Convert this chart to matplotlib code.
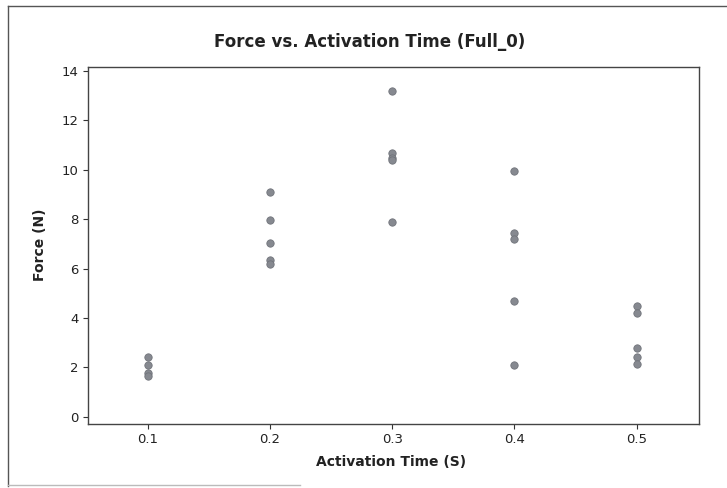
import matplotlib
matplotlib.use("Agg")
import matplotlib.pyplot as plt
from matplotlib.lines import Line2D

# Data
t_01 = [2.4, 2.1, 1.75, 1.65]
t_02 = [9.1, 7.95, 7.05, 6.35, 6.2]
t_03 = [13.2, 10.7, 10.5, 10.4, 7.9]
t_04 = [9.95, 7.45, 7.2, 4.7, 2.1]
t_05 = [4.5, 4.2, 2.8, 2.4, 2.15]
times = [0.1, 0.2, 0.3, 0.4, 0.5]
forces = [t_01, t_02, t_03, t_04, t_05]
x_ticks = [0.1, 0.2, 0.3, 0.4, 0.5]
y_ticks = [0, 2, 4, 6, 8, 10, 12, 14]

W, H = 727, 488
fig = plt.figure(figsize=(W / 100, H / 100), dpi=100)
fig.patch.set_facecolor("white")

ax = fig.add_axes([87.7 / W, 1 - 424 / H, (699.3 - 87.7) / W, (424 - 66.7) / H])

xs, ys = [], []
for t, fs in zip(times, forces):
    for f in fs:
        xs.append(t)
        ys.append(f)
ax.scatter(xs, ys, s=28, color="#868990", edgecolors="#70737a", linewidths=0.6, zorder=3)

ax.set_xlim(0.0509, 0.5512)
ax.set_ylim(-0.3, 14.18)
ax.set_xticks(x_ticks)
ax.set_xticklabels([f"{v:.1f}" for v in x_ticks])
ax.set_yticks(y_ticks)
ax.tick_params(axis="both", direction="out", length=3.5, width=0.8, color="#333333",
               labelsize=9.5, labelcolor="#222222", pad=3)
for sp in ax.spines.values():
    sp.set_color("#444444")
    sp.set_linewidth(1.0)

fig.text(370 / W, 1 - 42 / H, "Force vs. Activation Time (Full_0)", ha="center", va="center",
         fontsize=12, fontweight="bold", color="#222222")
fig.text(391.5 / W, 1 - 462 / H, "Activation Time (S)", ha="center", va="center",
         fontsize=10, fontweight="bold", color="#222222")
fig.text(40 / W, 1 - 245 / H, "Force (N)", ha="center", va="center", rotation=90,
         fontsize=10, fontweight="bold", color="#222222")

# outer frame: left and top edges, faint partial bottom edge
fig.lines.append(Line2D([8 / W, 8 / W], [1 - 486 / H, 1 - 6 / H], transform=fig.transFigure,
                        color="#555555", linewidth=1.0, figure=fig))
fig.lines.append(Line2D([8 / W, 1.0], [1 - 6 / H, 1 - 6 / H], transform=fig.transFigure,
                        color="#555555", linewidth=1.0, figure=fig))
fig.lines.append(Line2D([8 / W, 300 / W], [1 - 485 / H, 1 - 485 / H], transform=fig.transFigure,
                        color="#bbbbbb", linewidth=1.0, figure=fig))

fig.savefig("out.png", dpi=100, facecolor="white")
